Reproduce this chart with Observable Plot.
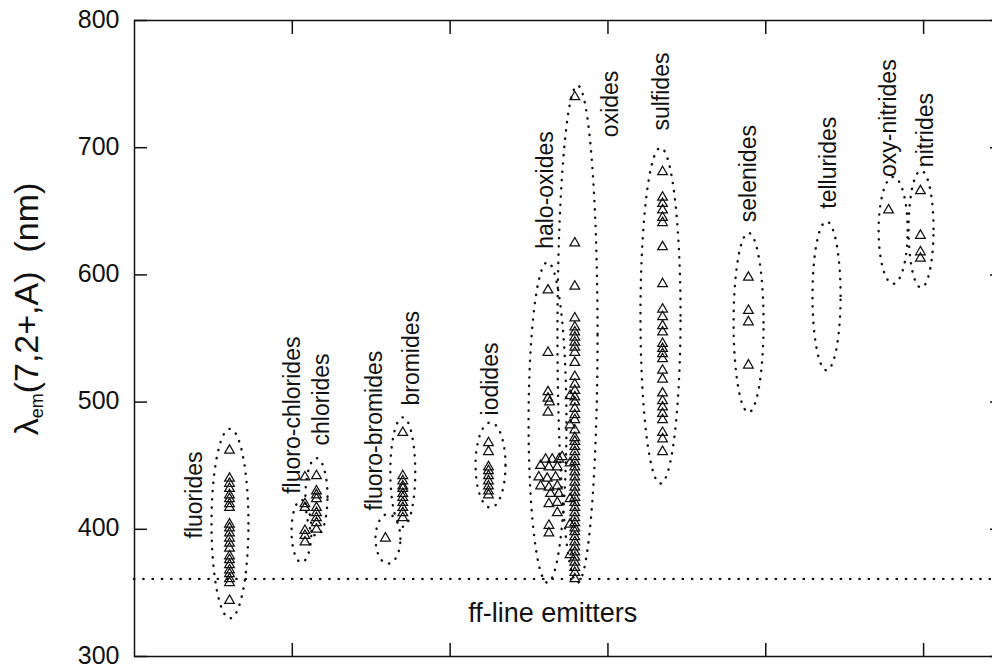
<!DOCTYPE html>
<html><head><meta charset="utf-8">
<script src="https://cdn.jsdelivr.net/npm/d3@7"></script>
<script src="https://cdn.jsdelivr.net/npm/@observablehq/plot@0.6"></script>
<style>body{margin:0;background:#fff;} svg text{white-space:pre;}</style>
</head><body><div id="chart"></div>
<script>
// ---- data ----
const categories = ["fluorides","fluoro-chlorides","chlorides","fluoro-bromides","bromides","iodides","halo-oxides","oxides","sulfides","selenides","tellurides","oxy-nitrides","nitrides"];
const categoryX = [0.602, 1.08, 1.153, 1.59, 1.70, 2.243, 2.62, 2.79, 3.346, 3.89, 4.385, 4.778, 4.98];

const fluorides = [462,440,436,432,427,424,420,417,404,401,397,393,389,385,379,376,372,368,365,361,358,344];
const fluoroChlorides = [441,420,417,399,395,390];
const chlorides = [442,430,427,424,417,413,409,405,400];
const fluoroBromides = [393];
const bromides = [476,442,438,434,432,428,425,421,417,413,409];
const iodides = [468,461,449,446,442,438,434,430,427];
const haloOxides  = [588,539,508,503,500,492,455,455,455,457,450,449,449,441,440,441,434,433,434,428,428,420,421,413,403,397];
const haloOxidesX = [2.62,2.62,2.62,2.62,2.63,2.62,2.605,2.647,2.689,2.71,2.573,2.626,2.679,2.562,2.615,2.668,2.573,2.626,2.679,2.636,2.689,2.626,2.679,2.679,2.626,2.626];
const oxides = [740,625,591,566,559,555,551,547,543,539,531,520,514,509,504,500,495,490,486,478,472,469,465,461,457,453,449,445,441,437,433,429,425,421,417,413,409,405,401,398,394,390,386,382,378,374,370,366,361];
const oxidesLeft = [505,482,452,424,404,380];
const oxidesLeftX = 2.76;
const sulfides = [681,661,656,651,645,641,622,593,573,567,560,555,546,542,538,534,525,518,507,501,496,491,486,476,471,461];
const selenides = [598,572,563,529];
const tellurides = [];
const oxyNitrides = [651];
const nitrides = [666,631,618,613];

const ellipseX     = [0.605, 1.058, 1.153, 1.606, 1.70, 2.256, 2.617, 2.807, 3.333, 3.891, 4.385, 4.807, 4.984];
const ellipseHalfW = [0.117, 0.063, 0.07, 0.079, 0.079, 0.095, 0.12, 0.127, 0.127, 0.095, 0.089, 0.092, 0.079];
const ellipseLow   = [330, 374, 395, 373, 402, 417, 358, 358, 436, 492, 525, 593, 590];
const ellipseHigh  = [479, 423, 456, 412, 488, 484, 610, 749, 700, 633, 642, 677, 682];

const labelX = [0.378, 1.0, 1.185, 1.52, 1.755, 2.256, 2.604, 3.016, 3.34, 3.891, 4.398, 4.778, 5.013];
const labelY = [392.8, 427.9, 465.9, 414.8, 497.3, 489.5, 620.5, 708.3, 713.5, 641.4, 652, 677, 684.7];

const ffLine = 361;
const ffLabel = "ff-line emitters";
const ffLabelX = 2.65, ffLabelY = 334;

const yTicks = [300,400,500,600,700,800];
const xTicks = [1,2,3,4,5];
const yTitle = {main: "λ", sub: "em", rest: "(7,2+,A)  (nm)"};

// ---- build tables ----
const seriesList = [fluorides, fluoroChlorides, chlorides, fluoroBromides, bromides, iodides, null, oxides, sulfides, selenides, tellurides, oxyNitrides, nitrides];
const points = [];
seriesList.forEach((vals, i) => { if (vals) vals.forEach(v => points.push({x: categoryX[i], y: v})); });
haloOxides.forEach((v, j) => points.push({x: haloOxidesX[j], y: v}));
oxidesLeft.forEach(v => points.push({x: oxidesLeftX, y: v}));

const ellipsePts = [];
ellipseX.forEach((cx, i) => {
  const cy = (ellipseLow[i] + ellipseHigh[i]) / 2, ry = (ellipseHigh[i] - ellipseLow[i]) / 2;
  for (let k = 0; k < 160; k++) {
    const t = 2 * Math.PI * k / 160;
    ellipsePts.push({id: i, x: cx + ellipseHalfW[i] * Math.cos(t), y: cy + ry * Math.sin(t)});
  }
});
const labels = categories.map((c, i) => ({text: c, x: labelX[i], y: labelY[i]}));

const ink = "#111";
const plot = Plot.plot({
  width: 992, height: 665,
  marginLeft: 134, marginRight: -10, marginTop: 20, marginBottom: 9,
  x: {domain: [0, 5.5], axis: null},
  y: {domain: [300, 800], axis: null},
  style: {fontFamily: "'Liberation Sans', Arial, sans-serif", background: "white", color: ink},
  marks: [
    Plot.ruleY([ffLine], {stroke: ink, strokeWidth: 2.4, strokeDasharray: "0.3,9", strokeLinecap: "round"}),
    Plot.line(ellipsePts, {x: "x", y: "y", z: "id", curve: "linear-closed", stroke: ink, strokeWidth: 2.4, strokeDasharray: "0.3,8", strokeLinecap: "round"}),
    Plot.dot(points, {x: "x", y: "y", symbol: "triangle", r: 3.6, stroke: ink, strokeWidth: 1.25, fill: "none"}),
    Plot.text(labels, {x: "x", y: "y", text: "text", rotate: -90, textAnchor: "start", lineAnchor: "middle", fontSize: 23, fill: ink}),
    Plot.text([ffLabel], {x: () => ffLabelX, y: () => ffLabelY, text: d => d, fontSize: 27, fill: ink}),
    Plot.axisY({ticks: yTicks, tickSize: 0, tickPadding: 15, fontSize: 25, label: null, anchor: "left", dy: -1}),
    Plot.axisY({ticks: yTicks, tickSize: -13, tickFormat: () => "", anchor: "left", label: null, strokeWidth: 1.5}),
    Plot.axisY({ticks: yTicks, tickSize: -13, tickFormat: () => "", anchor: "right", label: null, strokeWidth: 1.5}),
    Plot.axisX({ticks: xTicks, tickSize: -13, tickFormat: () => "", anchor: "bottom", label: null, strokeWidth: 1.5}),
    Plot.axisX({ticks: xTicks, tickSize: -13, tickFormat: () => "", anchor: "top", label: null, strokeWidth: 1.5}),
    Plot.frame({stroke: ink, strokeWidth: 1.5})
  ]
});
document.getElementById("chart").appendChild(plot);

// y-axis title with subscript
const svg = d3.select(plot);
const t = svg.append("text")
  .attr("transform", "translate(38,309) rotate(-90)")
  .attr("text-anchor", "middle")
  .attr("font-size", 34)
  .attr("fill", ink)
  .style("white-space", "pre");
t.append("tspan").text(yTitle.main);
t.append("tspan").attr("font-size", 18).attr("dy", 5).text(yTitle.sub);
t.append("tspan").attr("dy", -5).text(yTitle.rest);
</script></body></html>
